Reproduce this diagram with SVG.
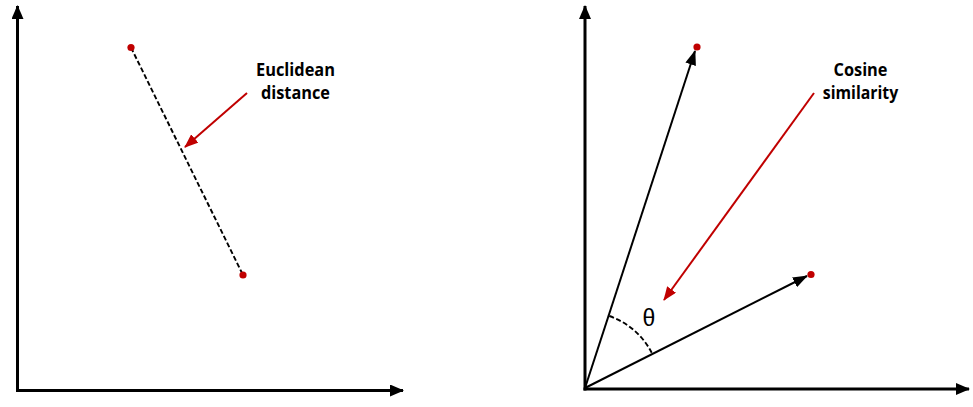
<svg xmlns="http://www.w3.org/2000/svg" width="973" height="407" viewBox="0 0 973 407">
<style>
.axis{stroke:#000;stroke-width:3;fill:none}
.vec{stroke:#000;stroke-width:2;fill:none}
.red{stroke:#c00000;stroke-width:2;fill:none}
.dash{stroke:#000;stroke-width:1.9;stroke-dasharray:5 2.5;fill:none}
.dot{fill:#c00000}
.lbl{font-family:"Open Sans","Liberation Sans",sans-serif;font-weight:bold;font-size:18px;fill:#000;text-anchor:middle}
.theta{font-family:"Liberation Sans","DejaVu Sans",sans-serif;font-size:23px;fill:#000;text-anchor:middle}
</style>
<defs>
<marker id="ahAxis" markerUnits="userSpaceOnUse" markerWidth="14" markerHeight="12" refX="13" refY="6" orient="auto" viewBox="0 0 14 12">
<path d="M0,0 L14,6 L0,12 Z" fill="#000"/>
</marker>
<marker id="ahVec" markerUnits="userSpaceOnUse" markerWidth="15" markerHeight="11" refX="14" refY="5.5" orient="auto" viewBox="0 0 15 11">
<path d="M0,0 L15,5.5 L0,11 Z" fill="#000"/>
</marker>
<marker id="ahRed" markerUnits="userSpaceOnUse" markerWidth="14" markerHeight="11" refX="13" refY="5.5" orient="auto" viewBox="0 0 14 11">
<path d="M0,0 L14,5.5 L0,11 Z" fill="#c00000"/>
</marker>
</defs>
<g id="connectors">
<line class="axis" x1="17.5" y1="392" x2="17.5" y2="6" marker-end="url(#ahAxis)"/>
<line class="axis" x1="16" y1="390.5" x2="403" y2="390.5" marker-end="url(#ahAxis)"/>
<line class="dash" x1="131" y1="47.5" x2="243" y2="275"/>
<line class="red" x1="247" y1="93" x2="185" y2="147" marker-end="url(#ahRed)"/>
<line class="axis" x1="585" y1="390.5" x2="585" y2="6" marker-end="url(#ahAxis)"/>
<line class="axis" x1="583.5" y1="389" x2="969" y2="389" marker-end="url(#ahAxis)"/>
<line class="vec" x1="585" y1="388" x2="695" y2="51" marker-end="url(#ahVec)"/>
<line class="vec" x1="585" y1="388" x2="807" y2="276" marker-end="url(#ahVec)"/>
<line class="red" x1="814" y1="93" x2="664" y2="300" marker-end="url(#ahRed)"/>
<path class="dash" d="M609.3,316 A75.5,75.5 0 0 1 651.7,352.7"/>
</g>
<g id="euclid-points">
<circle class="dot" cx="131" cy="47.5" r="3.6"/>
<circle class="dot" cx="243" cy="275" r="3.6"/>
</g>
<g id="cosine-points">
<circle class="dot" cx="697" cy="47" r="3.6"/>
<circle class="dot" cx="811" cy="274.5" r="3.6"/>
</g>
<g id="euclid-label">
<text class="lbl" x="295.5" y="76" textLength="79" lengthAdjust="spacingAndGlyphs">Euclidean</text>
<text class="lbl" x="295.5" y="98.5" textLength="69" lengthAdjust="spacingAndGlyphs">distance</text>
</g>
<g id="cosine-label">
<text class="lbl" x="860.5" y="76" textLength="54" lengthAdjust="spacingAndGlyphs">Cosine</text>
<text class="lbl" x="860.5" y="98.5" textLength="75.5" lengthAdjust="spacingAndGlyphs">similarity</text>
</g>
<g id="theta">
<text class="theta" x="649" y="325.5">θ</text>
</g>
</svg>
